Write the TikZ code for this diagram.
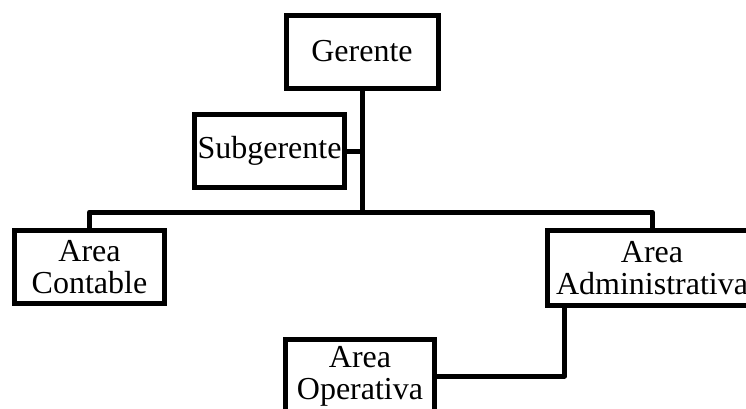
\documentclass[tikz,border=0pt]{standalone}
\usepackage{fontspec}
\setmainfont{Liberation Serif}
\begin{document}
\begin{tikzpicture}[x=1pt,y=-1pt,
  box/.style={draw=black,line width=5pt,fill=white,inner sep=0pt,align=center,
    font=\fontsize{32}{32}\selectfont,minimum height=73pt},
  conn/.style={draw=black,line width=5pt,line join=round}]
\useasboundingbox (0,0) rectangle (746,408);
\node[box,minimum width=152pt] (ger) at (362,51.5) {Gerente};
\node[box,minimum width=150pt] (sub) at (269.5,151) {Subgerente};
\node[box,minimum width=150pt] (cont) at (89.5,267) {Area\\Contable};
\node[box,minimum width=209pt,minimum height=75pt] (adm) at (652,268) {Area\\Administrativa};
\node[box,minimum width=149pt] (op) at (360,376) {Area\\Operativa};
\coordinate (j) at (362,212);
\draw[conn] (ger.south) -- (j);
\draw[conn] (sub.east) -- (sub.east -| j);
\draw[conn] (cont.north) |- (j) -| (adm.north);
\draw[conn] ([xshift=19.5pt]adm.south west) |- (op.east);
\end{tikzpicture}
\end{document}
